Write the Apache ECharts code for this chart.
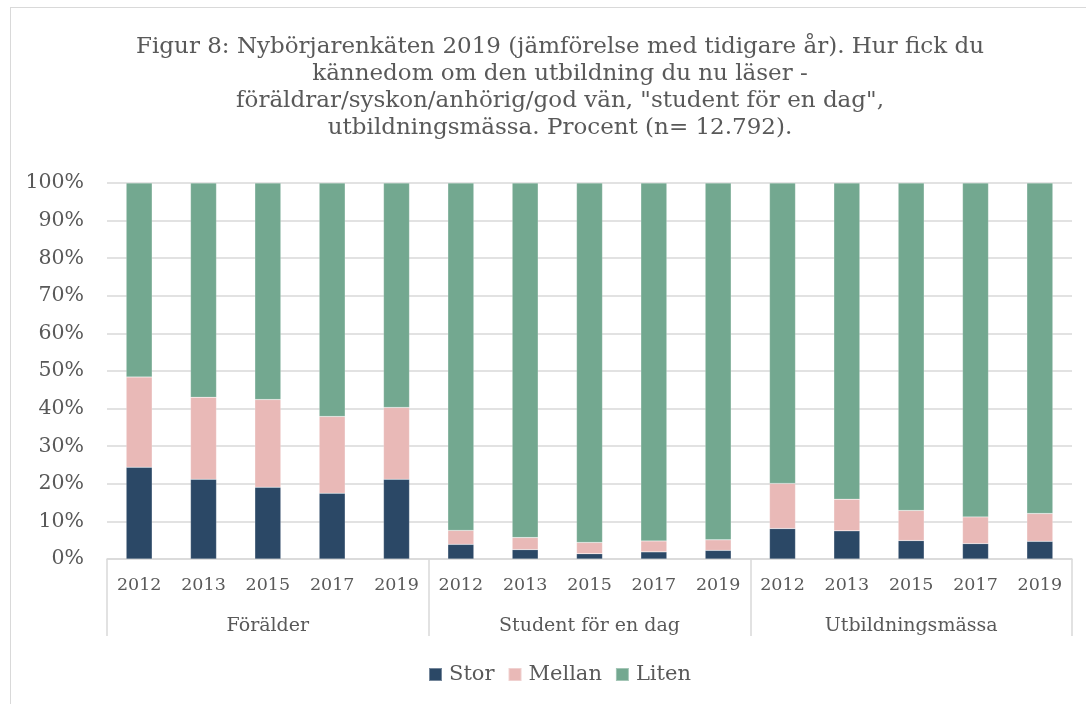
<!DOCTYPE html>
<html>
<head>
<meta charset="utf-8">
<script src="https://cdn.jsdelivr.net/npm/echarts@6/dist/echarts.min.js"></script>
<style>
  html, body { margin: 0; padding: 0; background: #fff; }
  #frame { position: absolute; left: 10px; top: 7px; width: 1100px; height: 720px; border: 1px solid #d9d9d9; }
  #chart { position: absolute; left: 0; top: 0; width: 1086px; height: 704px; }
</style>
</head>
<body>
<div id="frame"></div>
<div id="chart"></div>
<script>
// kategorier
var years = ['2012', '2013', '2015', '2017', '2019',
             '2012', '2013', '2015', '2017', '2019',
             '2012', '2013', '2015', '2017', '2019'];
var groups = ['Förälder', 'Student för en dag', 'Utbildningsmässa'];
var yTicks = [0, 10, 20, 30, 40, 50, 60, 70, 80, 90, 100];

// procent
var stor   = [24.4, 21.2, 19.1, 17.5, 21.2,  3.9, 2.5, 1.4, 1.9, 2.3,  8.1, 7.5, 4.9, 4.1, 4.7];
var mellan = [24.0, 21.8, 23.3, 20.4, 19.1,  3.7, 3.2, 3.0, 2.9, 2.8,  12.0, 8.4, 8.0, 7.1, 7.4];
var liten  = [51.6, 57.0, 57.6, 62.1, 59.7,  92.4, 94.3, 95.6, 95.2, 94.9,  79.9, 84.1, 87.1, 88.8, 87.9];

var font = 'DejaVu Serif';
var txt = '#595959';

var chart = echarts.init(document.getElementById('chart'));

function serie(name, data, color) {
  return {
    name: name,
    type: 'bar',
    stack: 'total',
    barWidth: 26,
    itemStyle: { color: color, borderColor: 'rgba(255,255,255,0.35)', borderWidth: 0.5 },
    data: data
  };
}

chart.setOption({
  animation: false,
  textStyle: { fontFamily: font },
  title: {
    text: 'Figur 8: Nybörjarenkäten 2019 (jämförelse med tidigare år). Hur fick du\nkännedom om den utbildning du nu läser -\nföräldrar/syskon/anhörig/god vän, "student för en dag",\nutbildningsmässa. Procent (n= 12.792).',
    left: 555,
    top: 29,
    textAlign: 'center',
    textStyle: { fontFamily: font, fontSize: 23, fontWeight: 'normal', color: txt, lineHeight: 27 }
  },
  legend: {
    bottom: 14,
    left: 423,
    itemWidth: 13,
    itemHeight: 13,
    itemGap: 13,
    icon: 'rect',
    textStyle: { fontFamily: font, fontSize: 21, color: txt, padding: [0, 0, 0, 2] },
    data: ['Stor', 'Mellan', 'Liten']
  },
  grid: { left: 107, right: 14, top: 183, bottom: 145 },
  xAxis: [{
    type: 'category',
    data: years,
    position: 'bottom',
    axisLine: { lineStyle: { color: '#d9d9d9', width: 1.5 } },
    axisTick: { show: false },
    axisLabel: { fontFamily: font, fontSize: 17.5, color: txt, margin: 17, interval: 0 }
  }, {
    type: 'category',
    data: groups,
    position: 'bottom',
    axisLine: { show: false },
    axisTick: { show: true, length: 77, lineStyle: { color: '#d9d9d9', width: 1.5 } },
    axisLabel: { fontFamily: font, fontSize: 19, color: txt, margin: 58 }
  }],
  yAxis: {
    type: 'value',
    min: 0,
    max: 100,
    interval: 10,
    axisLine: { show: false },
    axisTick: { show: false },
    splitLine: { lineStyle: { color: '#d9d9d9', width: 1.5 } },
    axisLabel: {
      fontFamily: font, fontSize: 20.5, color: txt, margin: 23,
      formatter: function (v) { return yTicks.indexOf(v) >= 0 ? v + '%' : ''; }
    }
  },
  series: [
    serie('Stor', stor, '#2b4866'),
    serie('Mellan', mellan, '#e9b9b7'),
    serie('Liten', liten, '#73a890')
  ]
});
</script>
</body>
</html>
